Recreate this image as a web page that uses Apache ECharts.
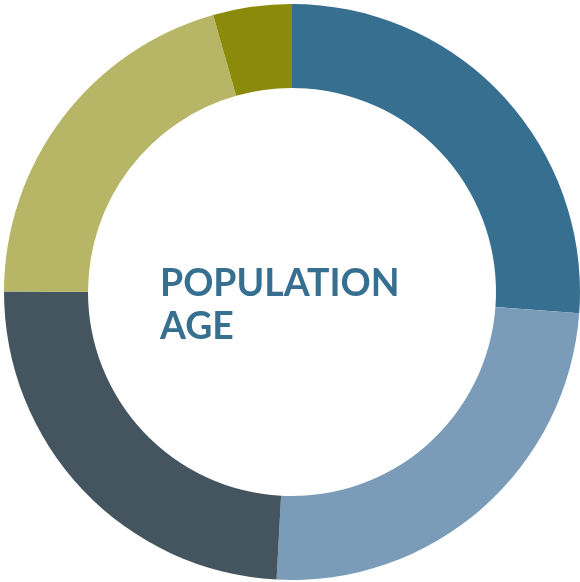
<!DOCTYPE html>
<html>
<head>
<meta charset="utf-8">
<script src="https://cdn.jsdelivr.net/npm/echarts@6/dist/echarts.min.js"></script>
<style>
  html, body { margin: 0; padding: 0; background: #fff; }
  #main { width: 580px; height: 582px; }
</style>
</head>
<body>
<div id="main"></div>
<script>
var dom = document.getElementById("main");
var myChart = echarts.init(dom);

// age groups, clockwise from 12 o'clock
var groups = ["Group 1", "Group 2", "Group 3", "Group 4", "Group 5"];
var shares = [26.1, 24.6, 24.1, 20.5, 4.4];
var colors = ["#376f91", "#7a9cb8", "#44555f", "#b7b566", "#8b8a0a"];

var seriesData = groups.map(function (g, i) {
  return { name: g, value: shares[i], itemStyle: { color: colors[i] } };
});

var option = {
  animation: false,
  title: {
    text: "POPULATION\nAGE",
    left: 160,
    top: 262,
    padding: 0,
    textStyle: {
      fontFamily: "Lato",
      fontWeight: "bold",
      fontSize: 37.4,
      lineHeight: 43,
      color: "#376f91"
    }
  },
  series: [
    {
      type: "pie",
      radius: [204, 288],
      center: [292, 292],
      startAngle: 90,
      clockwise: true,
      silent: true,
      label: { show: false },
      labelLine: { show: false },
      itemStyle: { borderWidth: 0 },
      data: seriesData
    }
  ]
};

myChart.setOption(option);
</script>
</body>
</html>
